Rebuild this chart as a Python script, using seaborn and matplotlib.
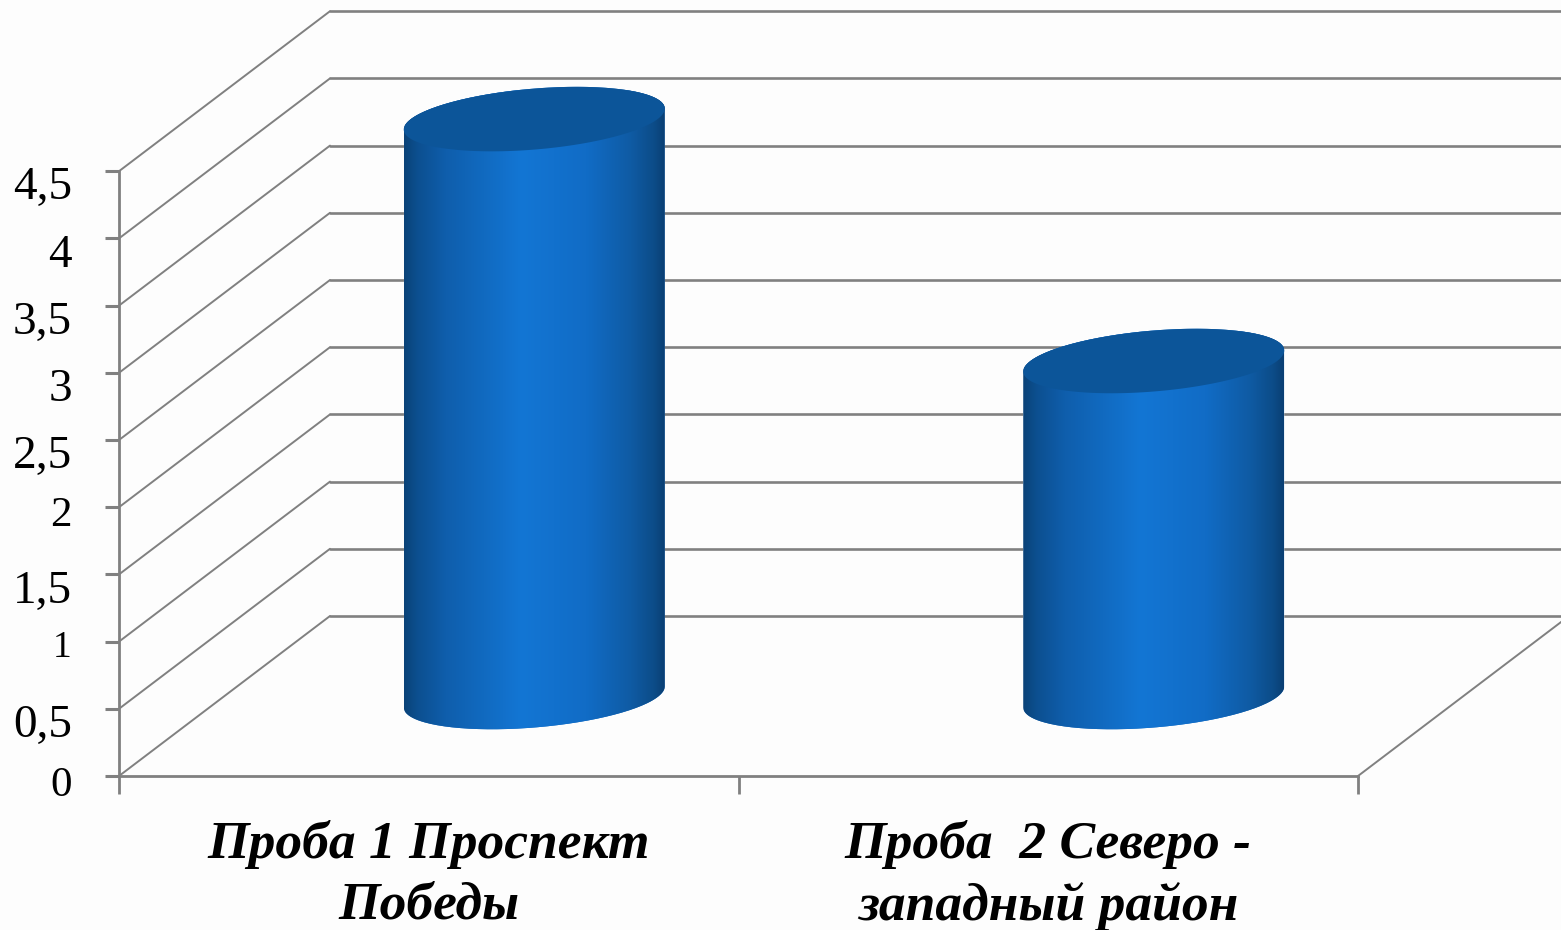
import numpy as np
import pandas as pd
import seaborn as sns
import matplotlib
matplotlib.use("Agg")
import matplotlib.pyplot as plt
from matplotlib.colors import LinearSegmentedColormap
from matplotlib.path import Path
from matplotlib.patches import PathPatch
from matplotlib.transforms import ScaledTranslation

# Chart data
categories = ["Проба 1 Проспект\nПобеды", "Проба  2 Северо -\nзападный район"]
values = [4.3, 2.5]
y_ticks = [0, 0.5, 1, 1.5, 2, 2.5, 3, 3.5, 4, 4.5]
y_tick_labels = ["0", "0,5", "1", "1,5", "2", "2,5", "3", "3,5", "4", "4,5"]

W, H = 1561, 930
UX, UY = 619.5, 134.4          # pixels per category / per value unit
X0_PX, Y0_PX = 119, 776        # pixel position of the front-left floor corner
DEPTH_X, DEPTH_Y = 211 / UX, 160 / UY
GREY = "#808080"
FACE = "#fdfdfd"

sns.set_theme(style="white")
plt.rcParams["font.family"] = ["Liberation Serif", "DejaVu Serif"]

fig = plt.figure(figsize=(W / 100, H / 100), dpi=100, facecolor=FACE)
ax = fig.add_axes([0, 0, 1, 1], facecolor=FACE)

df = pd.DataFrame({"category": categories, "value": values})
sns.barplot(data=df, x="category", y="value", width=261 / UX, color="#1068C0",
            saturation=1, ax=ax, zorder=3)

x_left = -0.5 - X0_PX / UX
y_bottom = -(H - Y0_PX) / UY
xlim = (x_left, x_left + W / UX)
ylim = (y_bottom, y_bottom + H / UY)

# Back wall and side wall grid
for v in y_ticks:
    ax.plot([-0.5, -0.5 + DEPTH_X], [v, v + DEPTH_Y], color=GREY, lw=1.4, zorder=1)
    ax.plot([-0.5 + DEPTH_X, xlim[1]], [v + DEPTH_Y, v + DEPTH_Y],
            color=GREY, lw=1.9, zorder=1)
ax.plot([1.5, 1.5 + DEPTH_X], [0, DEPTH_Y], color=GREY, lw=1.4, zorder=1)


def rim(angle, half_x, half_y, shear):
    """Sheared ellipse: the right end sits above the left end."""
    return half_x * np.cos(angle), half_y * np.sin(angle) + shear * np.cos(angle)


# Cylinders built on the bar rectangles, set halfway into the floor depth
shade = LinearSegmentedColormap.from_list(
    "cyl",
    [(0.00, "#0A4278"), (0.05, "#0C4F8F"), (0.16, "#0F5EAC"), (0.45, "#1376D4"),
     (0.70, "#116CC6"), (0.87, "#0F5BA4"), (0.96, "#0C4C88"), (1.00, "#0A3F74")],
)
gradient = np.linspace(0, 1, 256)[None, :]
A_Y, SHEAR_Y = 30.5 / UY, 10.5 / UY
for bar in ax.patches[:len(values)]:
    cx = bar.get_x() + bar.get_width() / 2 + DEPTH_X / 2
    half = bar.get_width() / 2
    base = 79 / UY
    top = base + bar.get_height()

    lower = np.linspace(np.pi, 2 * np.pi, 121)
    upper = np.linspace(0, np.pi, 121)
    lx, ly = rim(lower, half, A_Y, SHEAR_Y)
    ux, uy = rim(upper, half, A_Y, SHEAR_Y)
    xs = np.r_[cx + lx, cx + ux]
    ys = np.r_[base + ly, top + uy]
    outline = PathPatch(Path(np.c_[xs, ys]), transform=ax.transData,
                        facecolor="none", edgecolor="none")
    ax.add_patch(outline)

    bar.set_y(base - A_Y * 1.2)
    bar.set_height(top - base + 2.2 * A_Y)
    bar.set_x(cx - half)
    bar.set_clip_path(outline)

    img = ax.imshow(gradient, cmap=shade, aspect="auto", zorder=4,
                    extent=(cx - half, cx + half, base - 2 * A_Y, top + 2 * A_Y))
    img.set_clip_path(outline)

    ex, ey = rim(np.linspace(0, 2 * np.pi, 241), half, A_Y, SHEAR_Y)
    ax.fill(cx + ex, top + ey, color="#0C5599", lw=0, zorder=5)

ax.set_xlim(*xlim)
ax.set_ylim(*ylim)
ax.set_xlabel("")
ax.set_ylabel("")

# Axis lines, ticks and labels
for side in ("top", "right"):
    ax.spines[side].set_visible(False)
ax.spines["left"].set_position(("data", -0.5))
ax.spines["left"].set_bounds(0, 4.5)
ax.spines["bottom"].set_position(("data", 0))
ax.spines["bottom"].set_bounds(-0.5, 1.5)
for side in ("left", "bottom"):
    ax.spines[side].set_color(GREY)
    ax.spines[side].set_linewidth(2)
    ax.spines[side].set_zorder(2)

ax.set_yticks(y_ticks, y_tick_labels)
ax.set_xticks([-0.5, 0.5, 1.5], ["", "", ""])
ax.set_xticks([0, 1], categories, minor=True)
ax.tick_params(axis="y", direction="out", length=10, width=2.2, color=GREY,
               left=True, pad=24, labelsize=34, labelcolor="black")
ax.tick_params(axis="x", which="major", direction="out", length=13, width=2,
               color=GREY, bottom=True)
ax.tick_params(axis="x", which="minor", length=0, pad=32, labelsize=38.5,
               labelcolor="black")
for lab in ax.get_xticklabels(minor=True):
    lab.set_fontweight("bold")
    lab.set_fontstyle("italic")
    lab.set_linespacing(1.32)
    lab.set_multialignment("center")

# The single digits 0, 1 and 2 sit low and small, as old-style figures do
small_digits = {"0": (31, 5), "1": (27, 2), "2": (31, 4)}
for lab, text in zip(ax.get_yticklabels(), y_tick_labels):
    size, drop = small_digits.get(text, (34, 12))
    lab.set_fontsize(size)
    lab.set_transform(lab.get_transform()
                      + ScaledTranslation(0, -drop / 100, fig.dpi_scale_trans))

ax.grid(False)
fig.savefig("out.png", dpi=100, facecolor=FACE)
